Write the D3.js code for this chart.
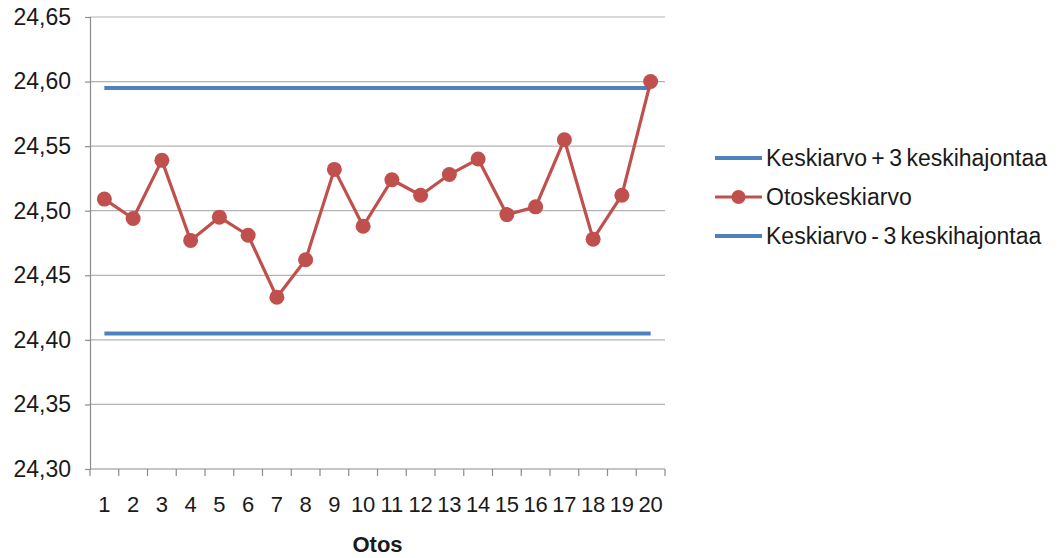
<!DOCTYPE html>
<html>
<head>
<meta charset="utf-8">
<script src="https://cdn.jsdelivr.net/npm/d3@7"></script>
<style>
  html, body { margin: 0; padding: 0; background: #fff; }
  svg { display: block; font-family: "Liberation Sans", Arial, sans-serif; }
</style>
</head>
<body>
<svg id="chart" width="1063" height="558"></svg>
<script>
// Sample numbers (Otos) 1..20
const samples = d3.range(1, 21);
// Sample means (Otoskeskiarvo)
const sampleMeans = [24.509, 24.494, 24.539, 24.477, 24.495, 24.481, 24.433, 24.462, 24.532, 24.488,
                     24.524, 24.512, 24.528, 24.540, 24.497, 24.503, 24.555, 24.478, 24.512, 24.600];
// Control limits
const upperLimit = 24.595;  // Keskiarvo + 3 keskihajontaa
const lowerLimit = 24.405;  // Keskiarvo - 3 keskihajontaa
const yTicks = [24.30, 24.35, 24.40, 24.45, 24.50, 24.55, 24.60, 24.65];
const legendLabels = ["Keskiarvo + 3 keskihajontaa", "Otoskeskiarvo", "Keskiarvo - 3 keskihajontaa"];

const RED = "#c0504d", BLUE = "#4f81bd";
const plot = { left: 90, right: 665, top: 17, bottom: 469 };

const svg = d3.select("#chart");

const x = d3.scaleBand().domain(samples).range([plot.left, plot.right]).padding(0);
const y = d3.scaleLinear().domain([24.30, 24.65]).range([plot.bottom, plot.top]);
const cx = d => x(d) + x.bandwidth() / 2;
const fmt = v => d3.format(".2f")(v).replace(".", ",");

// Horizontal gridlines
svg.append("g")
  .selectAll("line")
  .data(yTicks.slice(1))
  .join("line")
  .attr("x1", plot.left).attr("x2", plot.right)
  .attr("y1", d => y(d)).attr("y2", d => y(d))
  .attr("stroke", "#b3b3b3").attr("stroke-width", 1.2);

// Y axis
const yAxis = svg.append("g")
  .attr("transform", `translate(${plot.left},0)`)
  .call(d3.axisLeft(y).tickValues(yTicks).tickFormat(fmt).tickSize(5).tickPadding(14));
yAxis.select(".domain").attr("stroke", "#8c8c8c").attr("stroke-width", 1.2);
yAxis.selectAll(".tick line").attr("stroke", "#8c8c8c").attr("stroke-width", 1.2);
yAxis.selectAll(".tick text").attr("fill", "#1a1a1a").style("font-size", "23px");

// X axis with tick marks at category boundaries
const xAxisG = svg.append("g").attr("transform", `translate(0,${plot.bottom})`);
xAxisG.append("line")
  .attr("x1", plot.left).attr("x2", plot.right)
  .attr("stroke", "#8c8c8c").attr("stroke-width", 1.2);
const boundaries = samples.map(d => x(d)).concat([plot.right]);
xAxisG.selectAll("line.tick")
  .data(boundaries)
  .join("line")
  .attr("class", "tick")
  .attr("x1", d => d).attr("x2", d => d)
  .attr("y1", 0).attr("y2", 7)
  .attr("stroke", "#8c8c8c").attr("stroke-width", 1.2);
xAxisG.selectAll("text")
  .data(samples)
  .join("text")
  .attr("x", d => cx(d))
  .attr("y", 43)
  .attr("text-anchor", "middle")
  .attr("fill", "#1a1a1a")
  .style("font-size", "22px")
  .text(d => d);

// Axis title
svg.append("text")
  .attr("x", (plot.left + plot.right) / 2)
  .attr("y", 552)
  .attr("text-anchor", "middle")
  .attr("font-weight", "bold")
  .attr("fill", "#1a1a1a")
  .style("font-size", "22px")
  .text("Otos");

// Control limit lines
const limitLine = v => d3.line().x(d => cx(d)).y(() => y(v))([samples[0], samples[samples.length - 1]]);
svg.append("path").attr("d", limitLine(upperLimit))
  .attr("fill", "none").attr("stroke", BLUE).attr("stroke-width", 4);
svg.append("path").attr("d", limitLine(lowerLimit))
  .attr("fill", "none").attr("stroke", BLUE).attr("stroke-width", 4);

// Sample means line with markers
const meanLine = d3.line().x((d, i) => cx(samples[i])).y(d => y(d));
svg.append("path").attr("d", meanLine(sampleMeans))
  .attr("fill", "none").attr("stroke", RED).attr("stroke-width", 3.2)
  .attr("stroke-linejoin", "round");
svg.append("g")
  .selectAll("circle")
  .data(sampleMeans)
  .join("circle")
  .attr("cx", (d, i) => cx(samples[i]))
  .attr("cy", d => y(d))
  .attr("r", 7.5)
  .attr("fill", RED);

// Legend
const legend = svg.append("g");
const legendY = [158, 197, 236];
const legendColors = [BLUE, RED, BLUE];
legendLabels.forEach((label, i) => {
  const g = legend.append("g").attr("transform", `translate(715,${legendY[i]})`);
  g.append("line").attr("x1", 0).attr("x2", 47)
    .attr("stroke", legendColors[i]).attr("stroke-width", i === 1 ? 3.2 : 4);
  if (i === 1) g.append("circle").attr("cx", 23.5).attr("cy", 0).attr("r", 7).attr("fill", RED);
  g.append("text").attr("x", 51).attr("y", 8)
    .attr("fill", "#1a1a1a").style("font-size", "23px").style("word-spacing", "-2px").text(label);
});
</script>
</body>
</html>
